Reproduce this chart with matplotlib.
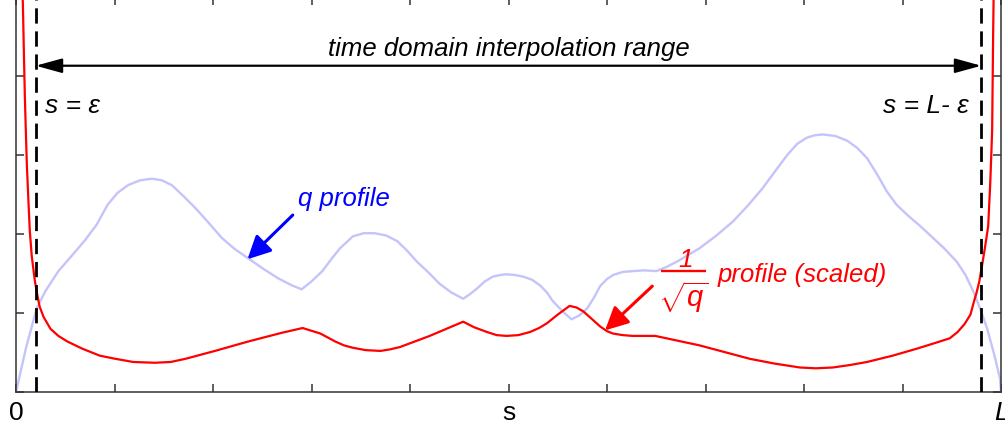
import matplotlib
matplotlib.use('Agg')
import matplotlib.pyplot as plt

plt.rcParams['font.family'] = ['Liberation Sans', 'DejaVu Sans']
plt.rcParams['mathtext.fontset'] = 'custom'
plt.rcParams['mathtext.rm'] = 'Liberation Sans'
plt.rcParams['mathtext.it'] = 'Liberation Sans:italic'

# q profile (light blue)
q_s = [0.0, 0.10, 0.21, 0.30, 0.43, 0.57, 0.70, 0.82, 0.93, 1.03, 1.14, 1.26, 1.38, 1.48,
       1.58, 1.70, 1.82, 1.95, 2.09, 2.22, 2.36, 2.51, 2.66, 2.80, 2.90, 3.00, 3.11, 3.20,
       3.29, 3.42, 3.53, 3.64, 3.76, 3.87, 3.97, 4.07, 4.19, 4.30, 4.42, 4.54, 4.61, 4.68,
       4.76, 4.84, 4.91, 4.98, 5.07, 5.15, 5.24, 5.32, 5.39, 5.45, 5.55, 5.64, 5.72, 5.80,
       5.87, 5.93, 6.00, 6.06, 6.16, 6.26, 6.38, 6.50, 6.60, 6.71, 6.82, 6.94, 7.11, 7.28,
       7.43, 7.58, 7.71, 7.83, 7.93, 8.03, 8.11, 8.19, 8.32, 8.44, 8.54, 8.64, 8.74, 8.84,
       8.94, 9.05, 9.18, 9.31, 9.43, 9.55, 9.64, 9.72, 9.79, 9.86, 9.93, 9.99, 10.0]
q_val = [0.0, 0.55, 1.06, 1.28, 1.53, 1.73, 1.92, 2.12, 2.37, 2.52, 2.62, 2.68, 2.70, 2.68,
         2.62, 2.48, 2.33, 2.15, 1.95, 1.81, 1.69, 1.56, 1.44, 1.35, 1.30, 1.40, 1.53, 1.68,
         1.82, 1.97, 2.01, 2.01, 1.98, 1.91, 1.79, 1.65, 1.51, 1.37, 1.26, 1.18, 1.24, 1.31,
         1.40, 1.46, 1.48, 1.49, 1.48, 1.46, 1.42, 1.35, 1.26, 1.15, 1.02, 0.92, 0.97, 1.06,
         1.20, 1.34, 1.43, 1.48, 1.52, 1.53, 1.54, 1.53, 1.58, 1.65, 1.73, 1.82, 1.98, 2.16,
         2.36, 2.58, 2.80, 3.00, 3.14, 3.22, 3.25, 3.26, 3.24, 3.18, 3.09, 2.96, 2.76, 2.54,
         2.37, 2.24, 2.10, 1.95, 1.81, 1.65, 1.48, 1.27, 1.05, 0.80, 0.48, 0.17, 0.0]

# 1/sqrt(q) profile (scaled, red)
r_s = [0.05, 0.06, 0.07, 0.08, 0.09, 0.10, 0.11, 0.125, 0.14, 0.16, 0.19, 0.21, 0.24, 0.28,
       0.35, 0.43, 0.52, 0.67, 0.85, 1.01, 1.19, 1.41, 1.57, 1.72, 2.02, 2.36, 2.70, 2.91,
       3.09, 3.24, 3.33, 3.42, 3.55, 3.70, 3.80, 3.90, 4.05, 4.20, 4.37, 4.54, 4.65, 4.78,
       4.88, 4.98, 5.10, 5.22, 5.31, 5.39, 5.50, 5.62, 5.69, 5.76, 5.85, 5.93, 6.00, 6.06,
       6.16, 6.26, 6.49, 6.94, 7.45, 7.70, 7.96, 8.12, 8.29, 8.46, 8.64, 8.90, 9.15, 9.33,
       9.48, 9.56, 9.63, 9.69, 9.72, 9.75, 9.78, 9.81, 9.84, 9.87, 9.89, 9.90, 9.91, 9.915,
       9.92, 9.925, 9.93]
r_val = [5.6, 5.3, 4.9, 4.3, 3.73, 3.30, 2.88, 2.45, 2.04, 1.72, 1.42, 1.27, 1.08, 0.95,
         0.80, 0.71, 0.64, 0.55, 0.46, 0.42, 0.38, 0.37, 0.38, 0.42, 0.52, 0.64, 0.75, 0.81,
         0.74, 0.64, 0.59, 0.56, 0.53, 0.52, 0.54, 0.57, 0.64, 0.71, 0.80, 0.89, 0.82, 0.76,
         0.72, 0.71, 0.72, 0.76, 0.81, 0.87, 0.98, 1.09, 1.07, 1.02, 0.92, 0.83, 0.77, 0.74,
         0.72, 0.71, 0.71, 0.59, 0.42, 0.36, 0.31, 0.30, 0.31, 0.34, 0.38, 0.46, 0.55, 0.62,
         0.68, 0.76, 0.86, 0.98, 1.12, 1.25, 1.40, 1.62, 1.85, 2.10, 2.62, 2.95, 3.31, 3.90,
         4.5, 5.0, 5.6]

eps_left = 0.2
eps_right = 9.8
x_ticks = list(range(11))
x_tick_labels = ['0', '', '', '', '', 's', '', '', '', '', 'L']
y_ticks = list(range(6))

fig = plt.figure(figsize=(10.05, 4.31), dpi=100)
ax = fig.add_axes([16 / 1005, 38 / 431, 985 / 1005, 395 / 431])
ax.set_xlim(0, 10)
ax.set_ylim(0, 5)

ax.plot(q_s, q_val, color='#c4c4fa', lw=1.7, zorder=2, solid_joinstyle='round')
ax.plot(r_s, r_val, color='#ff0000', lw=1.6, zorder=3, solid_joinstyle='round')

for xv in (eps_left, eps_right):
    ax.axvline(xv, color='black', lw=2.0, dashes=(5.5, 2.8), zorder=4)

# range arrow
ax.annotate('', xy=(eps_left, 4.13), xytext=(eps_right, 4.13),
            arrowprops=dict(arrowstyle='<|-|>,head_length=0.8,head_width=0.22',
                            mutation_scale=20, lw=1.6, color='black',
                            shrinkA=0, shrinkB=0), zorder=5)
ax.text(5.0, 4.27, 'time domain interpolation range', ha='center', va='baseline',
        fontsize=18.5, style='italic', color='black')
ax.text(0.29, 3.55, 's = ε', ha='left', va='baseline', fontsize=19,
        style='italic', color='black')
ax.text(9.67, 3.55, 's = L- ε', ha='right', va='baseline', fontsize=19,
        style='italic', color='black')

# q profile annotation
ax.text(2.86, 2.37, 'q profile', ha='left', va='baseline', fontsize=18.5,
        style='italic', color='#0000ff')
ax.annotate('', xy=(2.35, 1.68), xytext=(2.81, 2.24),
            arrowprops=dict(arrowstyle='-|>,head_length=0.7,head_width=0.35',
                            mutation_scale=20, lw=2.2, color='#0000ff',
                            shrinkA=0, shrinkB=0))

# 1/sqrt(q) annotation (fraction built from parts)
ax.text(6.80, 1.59, '1', ha='center', va='baseline', fontsize=19,
        style='italic', color='#ff0000')
ax.plot([6.55, 7.01], [1.53, 1.53], color='#ff0000', lw=1.7, solid_capstyle='butt')
ax.text(6.77, 1.21, r'$\sqrt{\mathit{q}}$', ha='center', va='center',
        fontsize=21, color='#ff0000')
ax.text(7.12, 1.40, 'profile (scaled)', ha='left', va='baseline', fontsize=18.5,
        style='italic', color='#ff0000')
ax.annotate('', xy=(5.98, 0.78), xytext=(6.46, 1.34),
            arrowprops=dict(arrowstyle='-|>,head_length=0.7,head_width=0.35',
                            mutation_scale=20, lw=2.2, color='#ff0000',
                            shrinkA=0, shrinkB=0))

ax.set_xticks(x_ticks)
ax.set_xticklabels(x_tick_labels, fontsize=19)
ax.get_xticklabels()[-1].set_style('italic')
ax.set_yticks(y_ticks)
ax.set_yticklabels([])
ax.tick_params(direction='in', length=6, width=1.1, color='#333333',
               top=True, right=True, pad=6)
for sp in ax.spines.values():
    sp.set_linewidth(1.1)
    sp.set_color('#333333')

fig.savefig('out.png', dpi=100)
